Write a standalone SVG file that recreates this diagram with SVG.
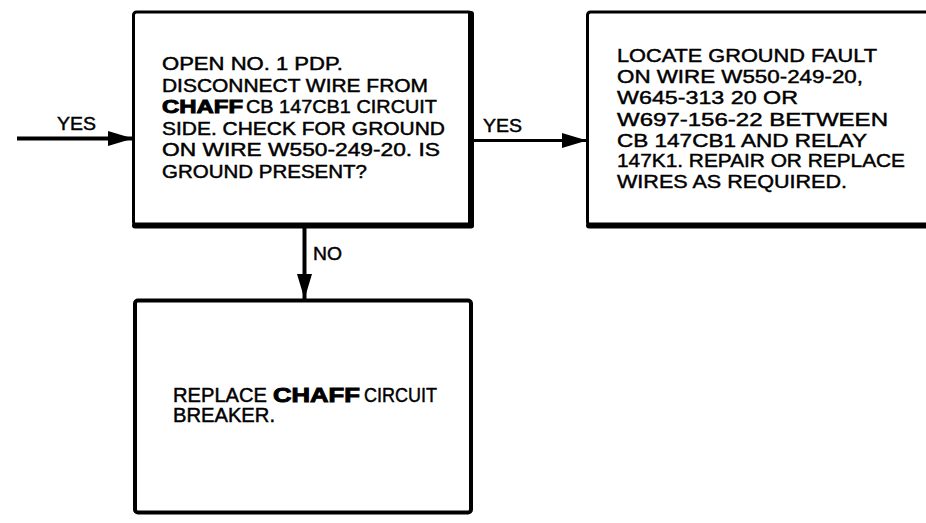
<svg xmlns="http://www.w3.org/2000/svg" width="926" height="523" viewBox="0 0 926 523">
<defs>
<style>
.box{fill:#fff;stroke:#000;stroke-width:3}
.edge{stroke:#000;stroke-width:6;fill:none;stroke-linecap:round}
.t{font-family:"Liberation Sans",Arial,sans-serif;fill:#000;stroke:#000;stroke-width:0.45}
.b{font-family:"Liberation Sans",Arial,sans-serif;font-weight:bold;fill:#000;stroke:#000;stroke-width:0.9}
.conn{stroke:#000;fill:none}
</style>
<marker id="ah" markerUnits="userSpaceOnUse" markerWidth="26" markerHeight="16" refX="25" refY="8" orient="auto">
<path d="M0,0.5 L25,8 L0,15.5 Z" fill="#000"/>
</marker>
</defs>
<rect width="926" height="523" fill="#fff"/>

<g id="connectors">
<line class="conn" x1="17" y1="138.5" x2="133" y2="138.5" stroke-width="4" marker-end="url(#ah)"/>
<line class="conn" x1="473" y1="140.5" x2="587" y2="140.5" stroke-width="3" marker-end="url(#ah)"/>
<line class="conn" x1="304.5" y1="228" x2="304.5" y2="299" stroke-width="4" marker-end="url(#ah)"/>
<text class="t" x="57" y="130" font-size="18" textLength="39" lengthAdjust="spacingAndGlyphs">YES</text>
<text class="t" x="483" y="132" font-size="18" textLength="39" lengthAdjust="spacingAndGlyphs">YES</text>
<text class="t" x="313" y="260" font-size="18" textLength="29" lengthAdjust="spacingAndGlyphs">NO</text>
</g>

<g id="node-check">
<rect class="box" x="133.5" y="12" width="338" height="213" rx="3"/>
<line class="edge" x1="135" y1="225.5" x2="471" y2="225.5"/>
<line class="edge" x1="471" y1="14" x2="471" y2="225"/>
<text class="t" x="162" y="70" font-size="17.5" textLength="181" lengthAdjust="spacingAndGlyphs">OPEN NO. 1 PDP.</text>
<text class="t" x="162" y="92" font-size="17.5" textLength="266" lengthAdjust="spacingAndGlyphs">DISCONNECT WIRE FROM</text>
<text class="b" x="162" y="113" font-size="17.5" textLength="81" lengthAdjust="spacingAndGlyphs">CHAFF</text>
<text class="t" x="246" y="113" font-size="17.5" textLength="191" lengthAdjust="spacingAndGlyphs">CB 147CB1 CIRCUIT</text>
<text class="t" x="162" y="135" font-size="17.5" textLength="283" lengthAdjust="spacingAndGlyphs">SIDE. CHECK FOR GROUND</text>
<text class="t" x="162" y="156" font-size="17.5" textLength="278" lengthAdjust="spacingAndGlyphs">ON WIRE W550-249-20. IS</text>
<text class="t" x="162" y="178" font-size="17.5" textLength="205" lengthAdjust="spacingAndGlyphs">GROUND PRESENT?</text>
</g>

<g id="node-locate">
<rect class="box" x="587.5" y="12" width="350" height="213" rx="3"/>
<line class="edge" x1="589" y1="225.5" x2="930" y2="225.5"/>
<text class="t" x="617" y="62" font-size="19" textLength="260" lengthAdjust="spacingAndGlyphs">LOCATE GROUND FAULT</text>
<text class="t" x="617" y="83" font-size="19" textLength="246" lengthAdjust="spacingAndGlyphs">ON WIRE W550-249-20,</text>
<text class="t" x="617" y="104" font-size="19" textLength="181" lengthAdjust="spacingAndGlyphs">W645-313 20 OR</text>
<text class="t" x="617" y="126" font-size="19" textLength="271" lengthAdjust="spacingAndGlyphs">W697-156-22 BETWEEN</text>
<text class="t" x="617" y="147" font-size="19" textLength="250" lengthAdjust="spacingAndGlyphs">CB 147CB1 AND RELAY</text>
<text class="t" x="617" y="167" font-size="19" textLength="288" lengthAdjust="spacingAndGlyphs">147K1. REPAIR OR REPLACE</text>
<text class="t" x="617" y="188" font-size="19" textLength="230" lengthAdjust="spacingAndGlyphs">WIRES AS REQUIRED.</text>
</g>

<g id="node-replace">
<rect class="box" x="135" y="300.5" width="336" height="212" rx="3" style="stroke-width:4"/>
<text class="t" x="173" y="402" font-size="19.5" textLength="94" lengthAdjust="spacingAndGlyphs">REPLACE</text>
<text class="b" x="273" y="402" font-size="19.5" textLength="87" lengthAdjust="spacingAndGlyphs">CHAFF</text>
<text class="t" x="364" y="402" font-size="19.5" textLength="73" lengthAdjust="spacingAndGlyphs">CIRCUIT</text>
<text class="t" x="173" y="422" font-size="19.5" textLength="102" lengthAdjust="spacingAndGlyphs">BREAKER.</text>
</g>
</svg>
